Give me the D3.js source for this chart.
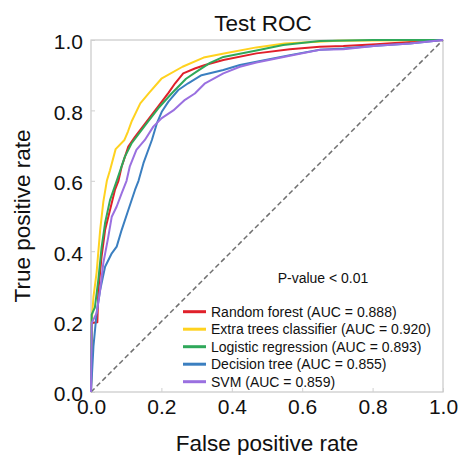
<!DOCTYPE html>
<html><head><meta charset="utf-8">
<script src="https://cdn.jsdelivr.net/npm/d3@7"></script>
<style>html,body{margin:0;padding:0;background:#fff;}svg{display:block;font-family:"Liberation Sans",Arial,sans-serif;}</style>
</head><body>
<svg id="chart" width="461" height="455"></svg>
<script>
const title = "Test ROC";
const xLabel = "False positive rate";
const yLabel = "True positive rate";
const annotation = "P-value < 0.01";
const tickValues = [0, 0.2, 0.4, 0.6, 0.8, 1.0];
const seriesNames = ["Random forest (AUC = 0.888)", "Extra trees classifier (AUC = 0.920)", "Logistic regression (AUC = 0.893)", "Decision tree (AUC = 0.855)", "SVM (AUC = 0.859)"];
const seriesColors = ["#e0202a", "#ffd21f", "#2fa85a", "#3b7fc0", "#9a70e0"];

const randomForest = [[0,0],[0.003,0.196],[0.018,0.198],[0.021,0.29],[0.03,0.384],[0.04,0.46],[0.054,0.517],[0.068,0.574],[0.078,0.60],[0.087,0.64],[0.106,0.697],[0.125,0.725],[0.158,0.768],[0.19,0.81],[0.22,0.85],[0.239,0.877],[0.262,0.905],[0.295,0.919],[0.324,0.929],[0.376,0.943],[0.47,0.962],[0.565,0.974],[0.65,0.981],[0.717,0.983],[0.81,0.988],[0.906,0.994],[1,1]];
const extraTrees = [[0,0],[0.002,0.2],[0.007,0.27],[0.016,0.34],[0.026,0.46],[0.035,0.54],[0.045,0.60],[0.054,0.63],[0.07,0.69],[0.095,0.716],[0.105,0.74],[0.116,0.77],[0.14,0.82],[0.165,0.85],[0.2,0.89],[0.26,0.924],[0.32,0.95],[0.385,0.963],[0.47,0.979],[0.55,0.99],[0.7,0.998],[1,1]];
const logisticRegression = [[0,0],[0.002,0.22],[0.011,0.24],[0.021,0.32],[0.03,0.41],[0.04,0.48],[0.054,0.545],[0.073,0.60],[0.096,0.668],[0.115,0.706],[0.158,0.763],[0.191,0.806],[0.229,0.848],[0.27,0.89],[0.3,0.91],[0.338,0.935],[0.376,0.952],[0.47,0.97],[0.546,0.986],[0.65,0.997],[0.8,1],[1,1]];
const decisionTree = [[0,0],[0.007,0.13],[0.016,0.224],[0.026,0.29],[0.04,0.356],[0.059,0.394],[0.073,0.413],[0.087,0.46],[0.106,0.517],[0.125,0.574],[0.135,0.60],[0.149,0.65],[0.173,0.716],[0.187,0.763],[0.201,0.796],[0.22,0.825],[0.248,0.858],[0.276,0.877],[0.314,0.90],[0.376,0.915],[0.423,0.929],[0.47,0.938],[0.565,0.957],[0.65,0.972],[0.717,0.976],[0.81,0.984],[0.906,0.99],[1,1]];
const svm = [[0,0],[0.002,0.196],[0.016,0.224],[0.026,0.29],[0.035,0.366],[0.049,0.44],[0.059,0.498],[0.073,0.527],[0.087,0.564],[0.101,0.60],[0.11,0.64],[0.129,0.688],[0.153,0.716],[0.177,0.754],[0.201,0.778],[0.234,0.80],[0.267,0.83],[0.295,0.848],[0.324,0.877],[0.376,0.905],[0.423,0.924],[0.47,0.936],[0.565,0.955],[0.65,0.972],[0.717,0.974],[0.81,0.984],[0.906,0.99],[1,1]];
const seriesData = [randomForest, extraTrees, logisticRegression, decisionTree, svm];

const svg = d3.select("#chart");
const L = 91, R = 443, T = 40, B = 392;
const x = d3.scaleLinear().domain([0, 1]).range([L, R]);
const y = d3.scaleLinear().domain([0, 1]).range([B, T]);

// frame
svg.append("rect").attr("x", L).attr("y", T).attr("width", R - L).attr("height", B - T)
  .attr("fill", "none").attr("stroke", "#c8c8c8").attr("stroke-width", 1.2);

// axes with inner ticks
const xAxis = svg.append("g").attr("transform", `translate(0,${B})`)
  .call(d3.axisBottom(x).tickValues(tickValues).tickFormat(d3.format(".1f")).tickSizeInner(-4).tickSizeOuter(0).tickPadding(9));
const yAxis = svg.append("g").attr("transform", `translate(${L},0)`)
  .call(d3.axisLeft(y).tickValues(tickValues).tickFormat(d3.format(".1f")).tickSizeInner(-4).tickSizeOuter(0).tickPadding(8));
[xAxis, yAxis].forEach(g => {
  g.select(".domain").remove();
  g.selectAll(".tick line").attr("stroke", "#d0d0d0");
  g.selectAll(".tick text").attr("font-size", 21).attr("fill", "#111").attr("font-family", "Liberation Sans, Arial, sans-serif");
});
yAxis.selectAll(".tick text").attr("dy", "0.42em");
xAxis.selectAll(".tick text").attr("dy", "0.62em");

// diagonal
svg.append("line").attr("x1", x(0)).attr("y1", y(0)).attr("x2", x(1)).attr("y2", y(1))
  .attr("stroke", "#707070").attr("stroke-width", 1.5).attr("stroke-dasharray", "5,3");

// curves
const line = d3.line().x(d => x(d[0])).y(d => y(d[1]));
seriesData.forEach((s, i) => {
  svg.append("path").datum(s).attr("d", line).attr("fill", "none")
    .attr("stroke", seriesColors[i]).attr("stroke-width", 2).attr("stroke-linejoin", "round");
});

// title & labels
svg.append("text").attr("x", 263).attr("y", 31).attr("text-anchor", "middle")
  .attr("font-size", 22.5).attr("fill", "#111").text(title);
svg.append("text").attr("x", 267).attr("y", 451).attr("text-anchor", "middle")
  .attr("font-size", 22.5).attr("fill", "#111").text(xLabel);
svg.append("text").attr("transform", `translate(30,${(T + B) / 2}) rotate(-90)`).attr("text-anchor", "middle")
  .attr("font-size", 22.5).attr("fill", "#111").text(yLabel);

svg.append("text").attr("x", 323).attr("y", 283).attr("text-anchor", "middle")
  .attr("font-size", 14).attr("fill", "#111").text(annotation);

// legend
const lg = svg.append("g");
seriesNames.forEach((n, i) => {
  const yy = 311.7 + i * 17.5;
  lg.append("line").attr("x1", 183).attr("x2", 206).attr("y1", yy).attr("y2", yy)
    .attr("stroke", seriesColors[i]).attr("stroke-width", 3);
  lg.append("text").attr("x", 211).attr("y", yy + 5).attr("font-size", 14).attr("fill", "#111").text(n);
});
</script>
</body></html>
